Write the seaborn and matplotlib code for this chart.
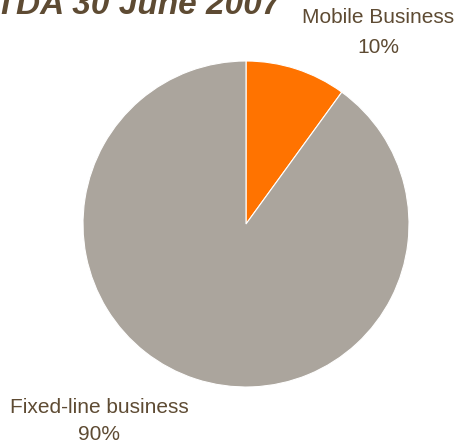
import matplotlib
matplotlib.use("Agg")
import matplotlib.pyplot as plt
import seaborn as sns

sns.set_theme(style="white")
plt.rcParams["font.family"] = ["Liberation Sans", "DejaVu Sans"]

segments = ["Mobile Business", "Fixed-line business"]
shares = [10, 90]
colors = ["#FF7300", "#ABA59D"]
title = "EBITDA 30 June 2007"
text_color = "#5E4B33"

W, H = 459, 443
fig = plt.figure(figsize=(W / 100, H / 100), dpi=100)
fig.patch.set_facecolor("white")

cx, cy, r = 246, 224, 163
ax = fig.add_axes([(cx - r) / W, (H - cy - r) / H, 2 * r / W, 2 * r / H])
ax.pie(shares, colors=colors, startangle=90, counterclock=False,
       radius=1.0, wedgeprops=dict(edgecolor="white", linewidth=0.8))
ax.set_xlim(-1, 1)
ax.set_ylim(-1, 1)
ax.axis("off")

# slice labels: name on one line, share below it
label_spots = [(378, 23, 53), (99, 413, 440)]
for name, share, (x, y1, y2) in zip(segments, shares, label_spots):
    fig.text(x / W, 1 - y1 / H, name, ha="center", va="baseline",
             fontsize=15, color=text_color)
    fig.text(x / W, 1 - y2 / H, f"{share}%", ha="center", va="baseline",
             fontsize=15, color=text_color)

fig.text(281 / W, 1 - 14 / H, title, ha="right", va="baseline",
         fontsize=24, fontweight="bold", fontstyle="italic", color=text_color)

fig.savefig("out.png", dpi=100, facecolor="white")
